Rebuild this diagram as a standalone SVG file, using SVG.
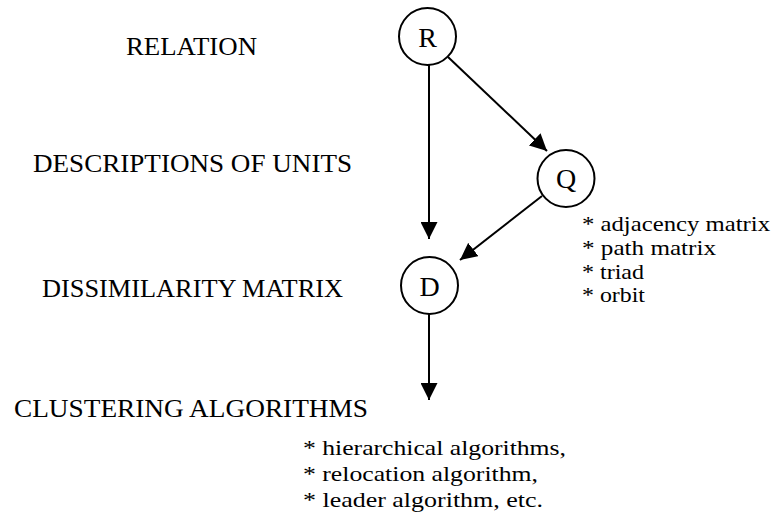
<svg xmlns="http://www.w3.org/2000/svg" width="773" height="529" viewBox="0 0 773 529" font-family="'Liberation Serif', 'DejaVu Serif', serif">
<style>
text{font-family:'Liberation Serif','DejaVu Serif',serif;fill:#000}
.lbl{font-size:25px}
.sm{font-size:21px}
.nl{font-size:28px;text-anchor:middle}
circle{fill:#fff;stroke:#000;stroke-width:2}
.edge{stroke:#000;stroke-width:2;fill:none;marker-end:url(#ah)}
</style>
<defs>
<marker id="ah" markerUnits="userSpaceOnUse" markerWidth="17" markerHeight="17" refX="16" refY="8" orient="auto" viewBox="0 0 16 16">
<path d="M0,0 L16,8 L0,16 z" fill="#000"/>
</marker>
</defs>
<g id="labels">
<text class="lbl" x="126" y="55" textLength="131" lengthAdjust="spacingAndGlyphs">RELATION</text>
<text class="lbl" x="33" y="172" textLength="319" lengthAdjust="spacingAndGlyphs">DESCRIPTIONS OF UNITS</text>
<text class="lbl" x="42" y="297" textLength="301" lengthAdjust="spacingAndGlyphs">DISSIMILARITY MATRIX</text>
<text class="lbl" x="14" y="417" textLength="354" lengthAdjust="spacingAndGlyphs">CLUSTERING ALGORITHMS</text>
</g>
<g id="edges">
<line class="edge" x1="429" y1="65" x2="429" y2="239"/>
<line class="edge" x1="448" y1="57" x2="547" y2="151"/>
<line class="edge" x1="542" y1="196" x2="460" y2="260"/>
<line class="edge" x1="429" y1="314" x2="429" y2="400"/>
</g>
<g id="node-R">
<circle cx="427.5" cy="36.5" r="28.5"/>
<text class="nl" x="427.5" y="47">R</text>
</g>
<g id="node-Q">
<circle cx="566" cy="178.5" r="28.5"/>
<text class="nl" x="566" y="188">Q</text>
</g>
<g id="node-D">
<circle cx="429.5" cy="285.5" r="28.5"/>
<text class="nl" x="429.5" y="296">D</text>
</g>
<g id="q-notes">
<text class="sm" x="582" y="231" textLength="188" lengthAdjust="spacingAndGlyphs">* adjacency matrix</text>
<text class="sm" x="582" y="255" textLength="134" lengthAdjust="spacingAndGlyphs">* path matrix</text>
<text class="sm" x="582" y="279" textLength="62" lengthAdjust="spacingAndGlyphs">* triad</text>
<text class="sm" x="582" y="302" textLength="63" lengthAdjust="spacingAndGlyphs">* orbit</text>
</g>
<g id="alg-notes">
<text class="sm" x="303" y="455" textLength="263" lengthAdjust="spacingAndGlyphs">* hierarchical algorithms,</text>
<text class="sm" x="303" y="481" textLength="235" lengthAdjust="spacingAndGlyphs">* relocation algorithm,</text>
<text class="sm" x="303" y="507" textLength="240" lengthAdjust="spacingAndGlyphs">* leader algorithm, etc.</text>
</g>
</svg>
